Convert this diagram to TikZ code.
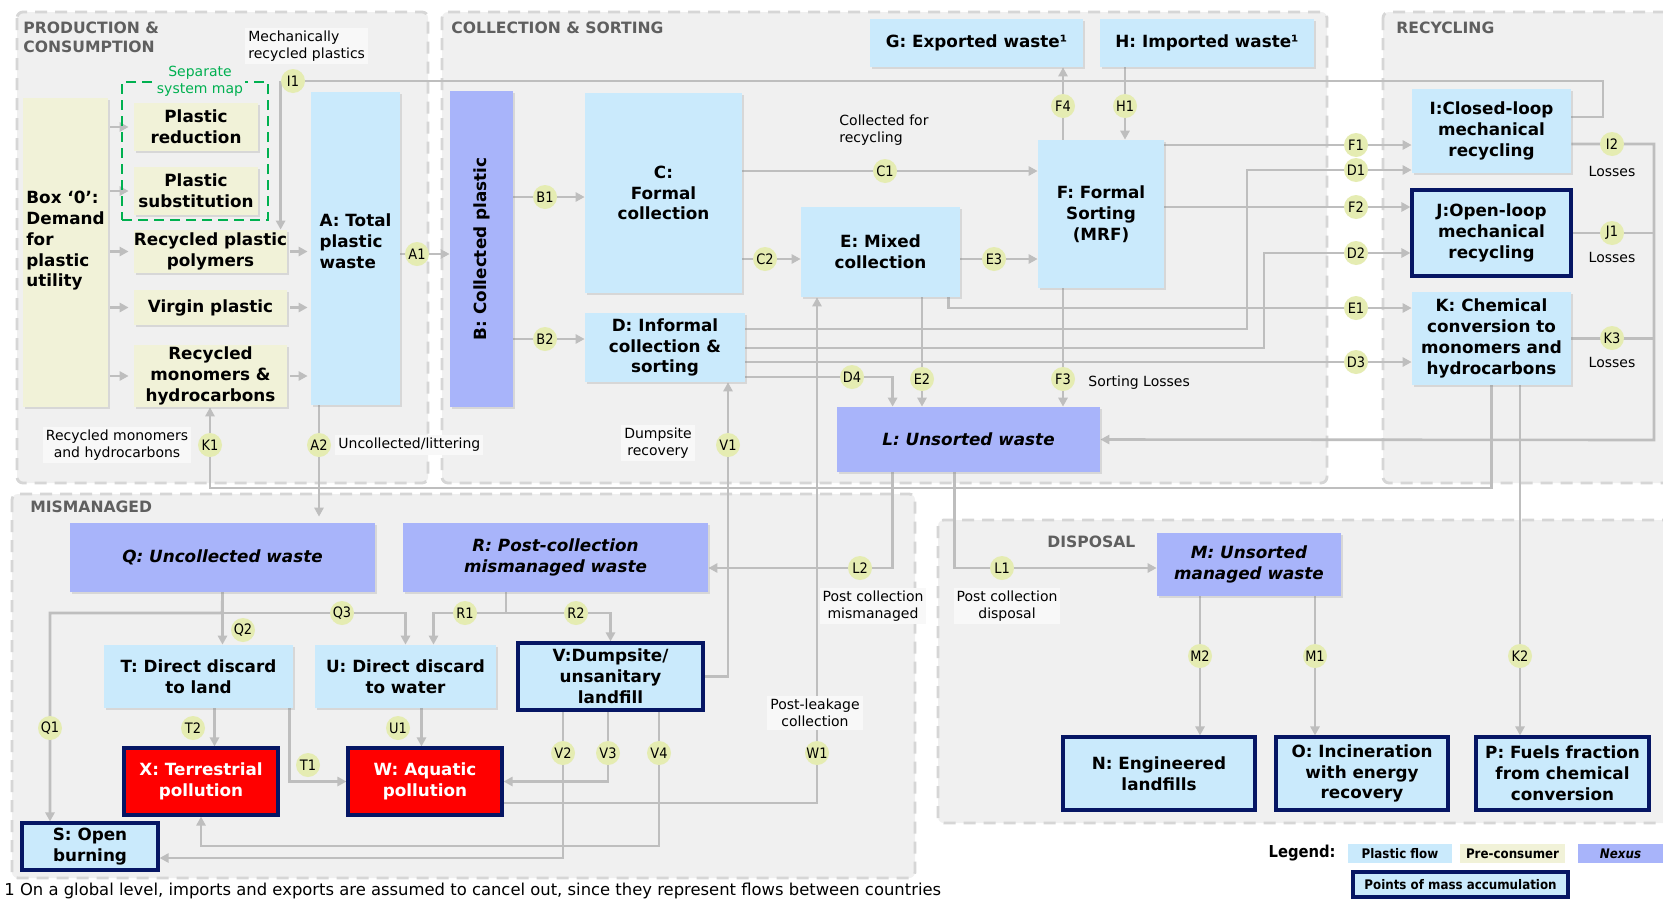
\documentclass[tikz,border=0pt]{standalone}
\usepackage{fontspec}
\setmainfont{DejaVu Sans}
\newfontfamily\condfont{DejaVu Sans Condensed}
\usetikzlibrary{arrows.meta,shadows}

\definecolor{secbg}{RGB}{240,240,240}
\definecolor{secline}{RGB}{214,214,214}
\definecolor{flowblue}{RGB}{202,234,252}
\definecolor{precons}{RGB}{241,242,216}
\definecolor{nexus}{RGB}{168,180,250}
\definecolor{navy}{RGB}{6,22,100}
\definecolor{polred}{RGB}{255,0,0}
\definecolor{ptfill}{RGB}{229,236,178}
\definecolor{flowgray}{RGB}{190,190,190}
\definecolor{titlegray}{RGB}{95,95,95}
\definecolor{mapgreen}{RGB}{0,176,80}

\pgfdeclarelayer{sections}
\pgfdeclarelayer{flows}
\pgfsetlayers{sections,flows,main}

\begin{document}
\begin{tikzpicture}[
    x=0.5pt, y=-0.5pt,
    area/.style n args={4}{at={({(#1+#3)/2},{(#2+#4)/2})},
        minimum width={(#3-#1)*0.5pt}, minimum height={(#4-#2)*0.5pt}},
    flowbox/.style={fill=flowblue, inner sep=0pt, align=center,
        font=\bfseries\fontsize{8.4}{10.4}\selectfont,
        drop shadow={opacity=0.22, shadow xshift=1.2pt, shadow yshift=-1.2pt}},
    prebox/.style={flowbox, fill=precons},
    nexbox/.style={flowbox, fill=nexus},
    itl/.style={font=\bfseries\itshape\fontsize{8.4}{10.4}\selectfont},
    accbox/.style={flowbox, draw=navy, line width=1.6pt},
    polbox/.style={accbox, fill=polred, text=white},
    mapbox/.style={draw=mapgreen, line width=1.2pt, dash pattern=on 5pt off 3pt, inner sep=0pt},
    pt/.style={circle, fill=ptfill, inner sep=0pt, minimum size=12pt,
        font=\condfont\fontsize{7.2}{8}\selectfont},
    lbl/.style={fill=white!55!secbg, inner sep=1.5pt, align=center,
        font=\fontsize{7}{8.6}\selectfont},
    sectitle/.style={anchor=north west, align=left, inner sep=0pt, text=titlegray,
        font=\bfseries\fontsize{7.8}{9.2}\selectfont},
    section/.style={fill=secbg, draw=secline, line width=1.4pt,
        dash pattern=on 6pt off 4pt, rounded corners=3pt},
    legbox/.style={inner sep=0pt, font=\condfont\bfseries\fontsize{6.6}{8}\selectfont},
    flow/.style={draw=flowgray, line width=1.3pt},
    arr/.style={flow, -{Triangle[length=4.5pt, width=4.6pt]}}
]
\useasboundingbox (0,0) rectangle (1663,900);

% section backgrounds
\begin{pgfonlayer}{sections}
\fill[white] (0,0) rectangle (1663,900);
\draw[section] (17,12) rectangle (428,483);
\draw[section] (442,12) rectangle (1327,483);
\draw[section] (1383,12) rectangle (1690,483);
\draw[section] (12,494) rectangle (915,878);
\draw[section] (938,520) rectangle (1690,823);
\end{pgfonlayer}

\node[sectitle] (tprod) at (23,22) {PRODUCTION \&\\CONSUMPTION};
\node[sectitle] (tcoll) at (451,22) {COLLECTION \& SORTING};
\node[sectitle] (trec) at (1396,22) {RECYCLING};
\node[sectitle] (tmis) at (30,501) {MISMANAGED};
\node[sectitle] (tdis) at (1047,536) {DISPOSAL};

% production & consumption
\node[prebox, area={23}{98}{108}{407}, align=left] (box0) {Box ‘0’:\\Demand\\for\\plastic\\utility\\[3pt]};
\node[mapbox, area={122}{82}{268}{220}] (sepmap) {};
\node[fill=secbg, inner sep=1pt, align=center, text=mapgreen,
      font=\fontsize{7}{8.4}\selectfont] (mapnote) at (200,81) {Separate\\system map};
\node[prebox, area={134}{103}{258}{151}] (red) {Plastic\\reduction};
\node[prebox, area={134}{167}{258}{215}] (subst) {Plastic\\substitution};
\node[prebox, area={134}{230}{287}{273}] (poly) {Recycled plastic\\polymers};
\node[prebox, area={134}{290}{287}{325}] (virgin) {Virgin plastic};
\node[prebox, area={134}{345}{287}{407}] (mono) {Recycled\\monomers \&\\hydrocarbons};
\node[flowbox, area={311}{92}{400}{405}, align=left] (A) {A: Total\\plastic\\waste\\[-3pt]};

% collection & sorting
\node[nexbox, area={450}{91}{513}{407}] (B) {\rotatebox{90}{B: Collected plastic}};
\node[flowbox, area={585}{93}{742}{293}] (C) {C:\\Formal\\collection};
\node[flowbox, area={585}{313}{745}{382}] (D) {D: Informal\\collection \&\\sorting};
\node[flowbox, area={801}{207}{960}{297}] (E) {E: Mixed\\collection};
\node[flowbox, area={1038}{140}{1164}{288}] (F) {F: Formal\\Sorting\\(MRF)};
\node[flowbox, area={870}{19}{1083}{67}] (G) {G: Exported waste¹};
\node[flowbox, area={1100}{19}{1314}{67}] (H) {H: Imported waste¹};
\node[nexbox, itl, area={837}{407}{1100}{472}] (L) {L: Unsorted waste};

% recycling
\node[flowbox, area={1412}{89}{1571}{173}] (I) {I:Closed-loop\\mechanical\\recycling};
\node[accbox, area={1412}{190}{1571}{276}] (J) {J:Open-loop\\mechanical\\recycling};
\node[flowbox, area={1412}{292}{1571}{385}] (K) {K: Chemical\\conversion to\\monomers and\\hydrocarbons};

% mismanaged
\node[nexbox, itl, area={70}{523}{375}{592}] (Q) {Q: Uncollected waste};
\node[nexbox, itl, area={403}{523}{708}{592}] (R) {R: Post-collection\\mismanaged waste};
\node[flowbox, area={104}{645}{293}{708}] (T) {T: Direct discard\\to land};
\node[flowbox, area={315}{645}{496}{708}] (U) {U: Direct discard\\to water};
\node[accbox, area={518}{643}{703}{710}] (V) {V:Dumpsite/\\unsanitary\\landfill};
\node[polbox, area={124}{748}{278}{815}] (X) {X: Terrestrial\\pollution};
\node[polbox, area={348}{748}{502}{815}] (W) {W: Aquatic\\pollution};
\node[accbox, area={22}{823}{158}{870}] (S) {S: Open\\burning};

% disposal
\node[nexbox, itl, area={1157}{533}{1341}{596}] (M) {M: Unsorted\\managed waste};
\node[accbox, area={1063}{737}{1255}{810}] (N) {N: Engineered\\landfills};
\node[accbox, area={1276}{737}{1448}{810}] (O) {O: Incineration\\with energy\\recovery};
\node[accbox, area={1476}{737}{1649}{810}] (P) {P: Fuels fraction\\from chemical\\conversion};

% flow labels
\node[pt] (I1) at (293,81) {I1};
\node[pt] (A1) at (417,254) {A1};
\node[pt] (K1) at (210,445) {K1};
\node[pt] (A2) at (319,445) {A2};
\node[pt] (B1) at (545,197) {B1};
\node[pt] (B2) at (545,339) {B2};
\node[pt] (C1) at (885,171) {C1};
\node[pt] (C2) at (765,259) {C2};
\node[pt] (E3) at (994,259) {E3};
\node[pt] (F4) at (1063,106) {F4};
\node[pt] (H1) at (1125,106) {H1};
\node[pt] (F1) at (1356,145) {F1};
\node[pt] (D1) at (1356,170) {D1};
\node[pt] (F2) at (1356,207) {F2};
\node[pt] (D2) at (1356,253) {D2};
\node[pt] (E1) at (1356,308) {E1};
\node[pt] (D3) at (1356,362) {D3};
\node[pt] (D4) at (852,377) {D4};
\node[pt] (E2) at (922,379) {E2};
\node[pt] (F3) at (1063,379) {F3};
\node[pt] (V1) at (728,445) {V1};
\node[pt] (I2) at (1612,144) {I2};
\node[pt] (J1) at (1612,233) {J1};
\node[pt] (K3) at (1612,338) {K3};
\node[pt] (L2) at (860,568) {L2};
\node[pt] (L1) at (1002,568) {L1};
\node[pt] (Q2) at (243,630) {Q2};
\node[pt] (Q3) at (342,613) {Q3};
\node[pt] (R1) at (465,613) {R1};
\node[pt] (R2) at (576,613) {R2};
\node[pt] (Q1) at (50,728) {Q1};
\node[pt] (T2) at (193,728) {T2};
\node[pt] (U1) at (398,728) {U1};
\node[pt] (T1) at (308,765) {T1};
\node[pt] (V2) at (563,753) {V2};
\node[pt] (V3) at (608,753) {V3};
\node[pt] (V4) at (659,753) {V4};
\node[pt] (W1) at (817,753) {W1};
\node[pt] (M2) at (1200,656) {M2};
\node[pt] (M1) at (1315,656) {M1};
\node[pt] (K2) at (1520,656) {K2};

% text labels
\node[lbl, anchor=west, align=left] (lmech) at (245,46) {Mechanically\\recycled plastics};
\node[lbl] (lmono) at (117,445) {Recycled monomers\\and hydrocarbons};
\node[lbl, anchor=west] (lunc) at (335,445) {Uncollected/littering};
\node[lbl] (ldump) at (658,443) {Dumpsite\\recovery};
\node[lbl, anchor=west, align=left, fill=none] (lcoll) at (836,130) {Collected for\\recycling};
\node[lbl, anchor=west, fill=none] (lsort) at (1085,383) {Sorting Losses};
\node[lbl, fill=none] (lossI) at (1612,171) {Losses};
\node[lbl, fill=none] (lossJ) at (1612,257) {Losses};
\node[lbl, fill=none] (lossK) at (1612,362) {Losses};
\node[lbl] (lpcm) at (873,606) {Post collection\\mismanaged};
\node[lbl] (lpcd) at (1007,606) {Post collection\\disposal};
\node[lbl] (lleak) at (815,713) {Post-leakage\\collection};

\coordinate (kbus) at (210,488);
\coordinate (lbus) at (1654,440);
\coordinate (qbus) at (222,613);
\coordinate (rbus) at (506,613);
\coordinate (vbus) at (659,846);

% flows
\begin{pgfonlayer}{flows}
\foreach \n in {red,subst,poly,virgin,mono}
    \draw[arr, shorten <=1pt, shorten >=2.5pt] (box0.east |- \n.west) -- (\n.west);
\foreach \n in {poly,virgin,mono}
    \draw[arr, shorten <=1.5pt, shorten >=1.5pt] (\n.east) -- (A.west |- \n.east);
\draw[arr] (I1.west) -- (I1.west |- poly.north);
\draw[arr] (A.east |- A1) -- (B.west |- A1);
\draw[arr, shorten >=3pt] (A2 |- A.south) -- (A2 |- Q.north);
\draw[arr] (K.south) |- (kbus) -- (kbus |- mono.south);

\draw[arr] (B.east |- B1) -- (C.west |- B1);
\draw[arr] (B.east |- B2) -- (D.west |- B2);
\draw[arr] (C.east |- C1) -- (F.west |- C1);
\draw[arr] (C.east |- C2) -- (E.west |- C2);
\draw[arr] (E.east |- E3) -- (F.west |- E3);
\draw[arr] (E2 |- E.south) -- (E2 |- L.north);
\draw[arr] ([xshift=-6pt]E.south east) |- (K.west |- E1);
\draw[arr] (F4 |- F.north) -- (F4 |- G.south);
\draw[arr] (H1 |- H.south) -- (H1 |- F.north);
\draw[arr] (F.east |- F1) -- (I.west |- F1);
\draw[arr] (F.east |- F2) -- (J.west |- F2);
\draw[arr] (F3 |- F.south) -- (F3 |- L.north);
\draw[arr] (D.east |- 0,329) -| (1247,170) -- (I.west |- D1);
\draw[arr] (D.east |- 0,348) -| (1264,253) -- (J.west |- D2);
\draw[arr] (D.east |- D3) -- (K.west |- D3);
\draw[arr] (D.east |- D4) -| ([xshift=28pt]L.north west);

\draw[flow] ([yshift=7pt]I.east) -| (1603,81) -- (I1);
\draw[arr] (I.east |- I2) -| (lbus) -- (L.east);
\draw[flow] (J.east) -- (lbus |- J.east);
\draw[flow] (K.east) -- (lbus |- K.east);
\draw[arr] (K2 |- K.south) -- (K2 |- P.north);

\draw[arr] ([xshift=28pt]L.south west) |- (R.east |- L2);
\draw[arr] ([xshift=59pt]L.south west) |- (M.west |- L1);
\draw[arr] (M2 |- M.south) -- (M2 |- N.north);
\draw[arr] (M1 |- M.south) -- (M1 |- O.north);

\draw[arr] (Q.south) -- (Q.south |- T.north);
\draw[arr] (Q.south) -- (qbus) -| (Q1 |- S.north);
\draw[arr] (qbus) -| (U.north);
\draw[arr] (rbus |- R.south) -- (rbus) -| ([xshift=14pt]U.north);
\draw[arr] (rbus) -| (V.north);
\draw[arr] ([xshift=8pt]T.south) -- ([xshift=8pt]T.south |- X.north);
\draw[arr] ([xshift=-2pt]T.south east) |- (W.west);
\draw[arr] ([xshift=8pt]U.south) -- ([xshift=8pt]U.south |- W.north);
\draw[arr] (V.east) -| (V1 |- D.south);
\draw[arr] (V3 |- V.south) |- (W.east);
\draw[arr] (V2 |- V.south) |- (S.east |- 0,858);
\draw[arr] (V4 |- V.south) -- (vbus) -| (X.south);
\draw[arr] (W.east |- 0,803) -| (W1 |- E.south);
\end{pgfonlayer}

% legend
\node[anchor=east, inner sep=0pt, font=\condfont\bfseries\fontsize{8.2}{9}\selectfont] (legtitle) at (1336,853) {Legend:};
\node[legbox, fill=flowblue, area={1348}{844}{1452}{863}] (legflow) {Plastic flow};
\node[legbox, fill=precons, area={1460}{844}{1565}{863}] (legpre) {Pre-consumer};
\node[legbox, fill=nexus, area={1578}{844}{1663}{863}, font=\condfont\bfseries\itshape\fontsize{6.6}{8}\selectfont] (legnex) {Nexus};
\node[legbox, fill=flowblue, draw=navy, line width=1.6pt, area={1353}{872}{1568}{897}] (legacc) {Points of mass accumulation};

% footnote
\node[anchor=base west, inner sep=0pt, font=\fontsize{8.2}{9}\selectfont] (foot) at (4,895)
    {1 On a global level, imports and exports are assumed to cancel out, since they represent flows between countries};
\end{tikzpicture}
\end{document}
